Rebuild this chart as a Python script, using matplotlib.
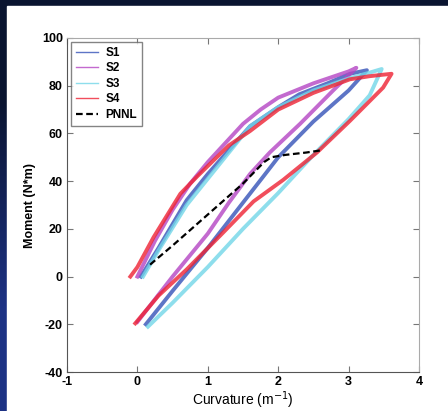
import numpy as np
import matplotlib
matplotlib.use("Agg")
import matplotlib.pyplot as plt
from matplotlib.patches import Rectangle

plt.rcParams['font.family'] = ['Liberation Sans', 'DejaVu Sans']
plt.rcParams['axes.unicode_minus'] = False

# hysteresis loops: (curvature, moment)
# each loop = loading branch (upper) then unloading branch (lower)
s1_x = [0.05, 0.3, 0.7, 1.0, 1.3, 1.6, 2.0, 2.3, 2.7, 3.02, 3.26,
        3.0, 2.5, 2.0, 1.79, 1.5, 1.0, 0.5, 0.12]
s1_y = [0, 12, 32, 43, 53, 63, 71, 76.4, 81, 85, 86.5,
        78, 65, 50, 42, 31, 12, -6, -20]

s2_x = [0.0, 0.25, 0.5, 0.75, 1.0, 1.25, 1.5, 1.75, 2.0, 2.5, 3.0, 3.11,
        2.78, 2.31, 1.88, 1.6, 1.3, 1.0, 0.5, 0.0]
s2_y = [0, 15, 28, 39, 48, 56, 64, 70, 75, 81, 86, 87.5,
        78, 64, 52, 43, 31, 18, 0, -19]

s3_x = [0.08, 0.3, 0.7, 1.0, 1.3, 1.6, 2.0, 2.5, 3.0, 3.3, 3.47,
        3.3, 3.0, 2.5, 2.0, 1.5, 1.0, 0.5, 0.15]
s3_y = [0, 11, 30, 41, 52, 63, 71, 78, 83, 85.5, 87,
        76, 66, 51, 35, 20, 4, -11, -21]

s4_x = [-0.1, 0.0, 0.23, 0.61, 0.85, 1.03, 1.3, 1.6, 2.0, 2.5, 3.02, 3.3, 3.61,
        3.49, 3.02, 2.55, 2.07, 1.65, 1.17, 0.7, 0.3, -0.03]
s4_y = [0, 4, 16.5, 34.7, 42, 47.2, 55, 61, 70, 77, 82.7, 84, 85,
        79.2, 65.3, 52, 40.5, 31.5, 17, 3, -8, -19.6]

pnnl_x = [0.18, 0.5, 1.0, 1.5, 1.8, 1.9, 2.1, 2.4, 2.63]
pnnl_y = [5, 13, 26, 39, 48, 50, 51, 52, 53]

series = [("S1", s1_x, s1_y, "#3552b8"),
          ("S2", s2_x, s2_y, "#b445c4"),
          ("S3", s3_x, s3_y, "#72d6e8"),
          ("S4", s4_x, s4_y, "#ee2233")]

xticks = [-1, 0, 1, 2, 3, 4]
yticks = [-40, -20, 0, 20, 40, 60, 80, 100]

fig = plt.figure(figsize=(4.48, 4.11), dpi=100)
fig.patch.set_facecolor("#0b1636")

# slide background gradient + white panel
bg = fig.add_axes([0, 0, 1, 1], zorder=-10)
bg.imshow([[0.0], [1.0]], cmap=matplotlib.colors.LinearSegmentedColormap.from_list(
    "bg", ["#0a1430", "#1d3284"]), aspect="auto", interpolation="bilinear",
    extent=[0, 1, 0, 1])
bg.set_xlim(0, 1)
bg.set_ylim(0, 1)
bg.add_patch(Rectangle((7 / 448, 0), 1, (411 - 6) / 411, color="white"))
bg.axis("off")

ax = fig.add_axes([67 / 448, 39 / 411, 352 / 448, 334 / 411])
for name, x, y, c in series:
    ax.plot(x, y, color=c, lw=2.8, alpha=0.8, label=name,
            solid_joinstyle="round")
ax.plot(pnnl_x, pnnl_y, color="black", lw=1.6, ls=(0, (3, 1.6)), label="PNNL")

ax.set_xlim(-1, 4)
ax.set_ylim(-40, 100)
ax.set_xticks(xticks)
ax.set_yticks(yticks)
ax.tick_params(direction="in", length=4, width=0.8, top=True, right=True,
               labelsize=9, color="#777777", pad=3)
for lab in ax.get_xticklabels() + ax.get_yticklabels():
    lab.set_fontweight("bold")
for side in ["left", "bottom"]:
    ax.spines[side].set_color("#555555")
for side in ["top", "right"]:
    ax.spines[side].set_color("#aaaaaa")

ax.set_xlabel("Curvature (m$^{-1}$)", fontsize=10, labelpad=1)
ax.set_ylabel("Moment (N*m)", fontsize=9, fontweight="bold", labelpad=4)

leg = ax.legend(loc="upper left", fontsize=8.5, frameon=True, fancybox=False,
                handlelength=1.9, labelspacing=0.3, borderpad=0.4,
                borderaxespad=0.35, handletextpad=0.6)
leg.get_frame().set_edgecolor("#666666")
leg.get_frame().set_linewidth(1.0)
for t in leg.get_texts():
    t.set_fontweight("bold")
for h in leg.get_lines()[:4]:
    h.set_linewidth(1.0)
    h.set_alpha(0.8)

fig.savefig("out.png", dpi=100, facecolor=fig.get_facecolor())
